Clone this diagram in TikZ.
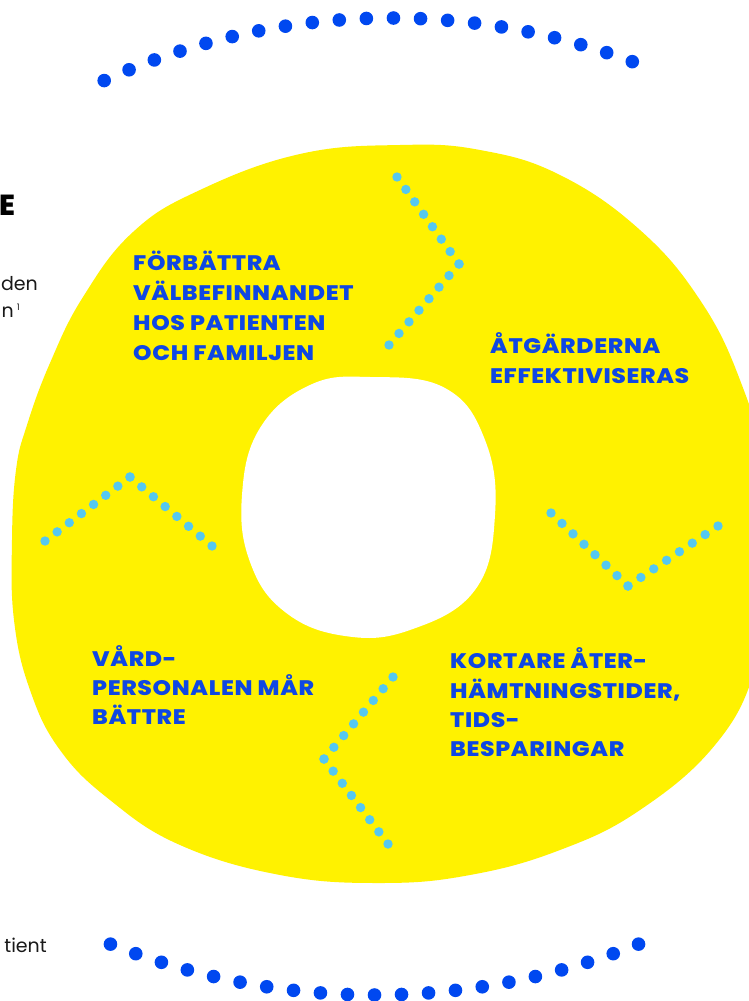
\documentclass[tikz,border=0pt]{standalone}
\usepackage{fontspec}
\setmainfont{Poppins}
\newfontfamily\labfont{Poppins ExtraBold}[FakeStretch=1.12, LetterSpace=3]
\newfontfamily\headfont{Poppins ExtraBold}
\usetikzlibrary{calc}
\definecolor{ylw}{HTML}{FFF200}
\definecolor{dotblue}{HTML}{0048F0}
\definecolor{txtblue}{HTML}{0F47E3}
\definecolor{chev}{HTML}{55C8F0}
\tikzset{
  lab/.style={anchor=base west, inner sep=0pt, text=txtblue, font=\labfont\fontsize{21}{30}\selectfont},
  body/.style={anchor=base east, inner sep=0pt, text=black!90, font=\fontsize{19}{26}\selectfont},
  bigdot/.style={fill=dotblue},
  chevdot/.style={fill=chev}
}
\begin{document}
\begin{tikzpicture}[x=1pt,y=-1pt]
\useasboundingbox (0,0) rectangle (749,1001);
\clip (0,0) rectangle (749,1001);
\fill[white] (0,0) rectangle (749,1001);
% yellow blob
\fill[ylw] plot[smooth cycle, tension=0.7] coordinates {
 (400,145) (480,150) (560,175) (640,230) (700,300) (740,380) (765,470)
 (770,580) (755,670) (715,745) (640,810) (560,850) (470,875) (380,883)
 (280,875) (180,845) (110,800) (60,750) (30,690) (14,620) (12,540)
 (16,470) (27,425) (50,363) (83,297) (133,232) (200,190) (300,154)};
% hole
\fill[white] plot[smooth cycle, tension=0.7] coordinates {
 (370,377) (445,388) (485,440) (495,515) (475,590) (410,630) (345,636)
 (285,612) (250,562) (242,495) (260,428) (310,385)};
% top arc of dots
\foreach \t in {0,...,20}
  \fill[bigdot] ({391+689*cos(114.6-\t*2.255)}, {707-689*sin(114.6-\t*2.255)}) circle[radius=6.8pt];
% bottom arc of dots
\foreach \t in {0,...,20}
  \fill[bigdot] ({374.5+711*cos(-111.8+\t*2.18)}, {284-711*sin(-111.8+\t*2.18)}) circle[radius=6.8pt];
% chevrons
\coordinate (ta) at (397,177); \coordinate (tv) at (459,264); \coordinate (tb) at (389,345);
\coordinate (la) at (45,541);  \coordinate (lv) at (130,477); \coordinate (lb) at (212,546);
\coordinate (ra) at (551,513); \coordinate (rv) at (628,586); \coordinate (rb) at (718,526);
\coordinate (ba) at (393,677); \coordinate (bv) at (324,759); \coordinate (bb) at (388,844);
\foreach \c in {t,l,r,b}{
  \foreach \i in {0,...,7}{
    \fill[chevdot] ($(\c a)!\i/7!(\c v)$) circle[radius=4.7pt];
    \fill[chevdot] ($(\c v)!\i/7!(\c b)$) circle[radius=4.7pt];
  }
}
% labels
\node[lab] (f1) at (133,270) {FÖRBÄTTRA};
\node[lab] (f2) at (133,300) {VÄLBEFINNANDET};
\node[lab] (f3) at (133,330) {HOS PATIENTEN};
\node[lab] (f4) at (133,360) {OCH FAMILJEN};
\node[lab] (a1) at (490,353) {ÅTGÄRDERNA};
\node[lab] (a2) at (490,383) {EFFEKTIVISERAS};
\node[lab] (v1) at (92,666) {VÅRD-};
\node[lab] (v2) at (92,695) {PERSONALEN MÅR};
\node[lab] (v3) at (92,724) {BÄTTRE};
\node[lab] (k1) at (450,668) {KORTARE ÅTER-};
\node[lab] (k2) at (450,698) {HÄMTNINGSTIDER,};
\node[lab] (k3) at (450,727) {TIDS-};
\node[lab] (k4) at (450,756) {BESPARINGAR};
% cut-off page text at left
\node[anchor=base west, inner sep=0pt, font=\headfont\fontsize{29}{29}\selectfont] (e1) at (-1,215) {E};
\node[body] (d1) at (38,290) {den};
\node[body] (d2) at (20,317) {n\,{\fontsize{9}{9}\selectfont\raisebox{7pt}{1}}};
\node[body] (d3) at (47,952) {tient};
\end{tikzpicture}
\end{document}
